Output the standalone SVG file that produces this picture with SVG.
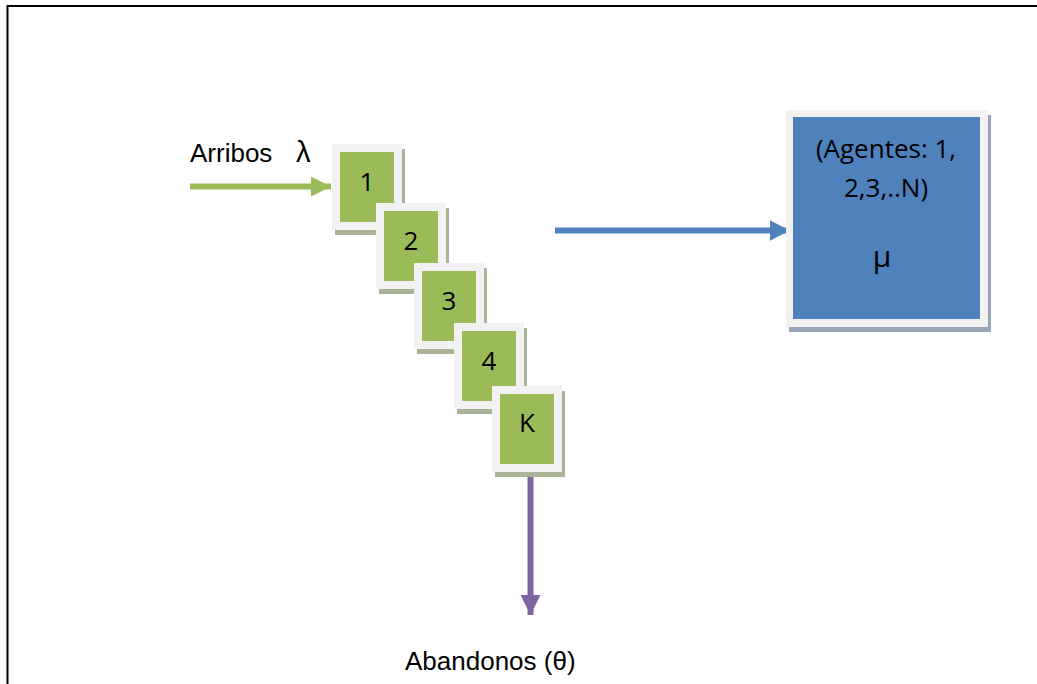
<svg xmlns="http://www.w3.org/2000/svg" width="1037" height="684" viewBox="0 0 1037 684">
<defs>
<style>
.frame{fill:#f2f2f2}
.gshadow{fill:#a9b496}
.green{fill:#9bbb59}
.bshadow{fill:#97a5ba}
.blue{fill:#4f81bd}
.num{font-family:"Open Sans","Noto Sans",sans-serif;font-size:26px;fill:#000;text-anchor:middle}
.lbl{font-family:"Liberation Sans",Arial,sans-serif;font-size:26px;fill:#000}
</style>
<marker id="ahG" markerWidth="20" markerHeight="20" refX="20" refY="10" viewBox="0 0 20 20" markerUnits="userSpaceOnUse" orient="auto"><path d="M0,0 L20,10 L0,20 Z" fill="#9bbb59"/></marker>
<marker id="ahB" markerWidth="20" markerHeight="21" refX="20" refY="10.5" viewBox="0 0 20 21" markerUnits="userSpaceOnUse" orient="auto"><path d="M0,0 L20,10.5 L0,21 Z" fill="#4f81bd"/></marker>
<marker id="ahP" markerWidth="20" markerHeight="20" refX="20" refY="10" viewBox="0 0 20 20" markerUnits="userSpaceOnUse" orient="auto"><path d="M0,0 L20,10 L0,20 Z" fill="#8064a2"/></marker>
</defs>
<rect width="1037" height="684" fill="#fff"/>
<path d="M7.5,684 V6 H1037" fill="none" stroke="#000" stroke-width="2"/>
<g id="connectors">
<line x1="190" y1="186.5" x2="331" y2="186.5" stroke="#9bbb59" stroke-width="6" marker-end="url(#ahG)"/>
<line x1="555" y1="230.5" x2="789.5" y2="230.5" stroke="#4f81bd" stroke-width="6" marker-end="url(#ahB)"/>
<line x1="530.5" y1="474" x2="530.5" y2="615" stroke="#8064a2" stroke-width="6" marker-end="url(#ahP)"/>
</g>
<g id="box1"><rect class="gshadow" x="335" y="149" width="70" height="86"/><rect class="frame" x="332" y="144" width="70" height="86"/><rect class="green" x="340" y="152" width="54" height="70"/><text class="num" x="367" y="191">1</text></g>
<g id="box2"><rect class="gshadow" x="379" y="208" width="70" height="86"/><rect class="frame" x="376" y="203" width="70" height="86"/><rect class="green" x="384" y="211" width="54" height="70"/><text class="num" x="411" y="250">2</text></g>
<g id="box3"><rect class="gshadow" x="417" y="268" width="70" height="86"/><rect class="frame" x="414" y="263" width="70" height="86"/><rect class="green" x="422" y="271" width="54" height="70"/><text class="num" x="449" y="310">3</text></g>
<g id="box4"><rect class="gshadow" x="457" y="328" width="70" height="86"/><rect class="frame" x="454" y="323" width="70" height="86"/><rect class="green" x="462" y="331" width="54" height="70"/><text class="num" x="489" y="370">4</text></g>
<g id="boxK"><rect class="gshadow" x="495" y="391" width="70" height="86"/><rect class="frame" x="492" y="386" width="70" height="86"/><rect class="green" x="500" y="394" width="54" height="70"/><text class="num" x="527" y="432">K</text></g>
<g id="agents"><rect class="bshadow" x="789" y="115" width="202" height="217"/><rect class="frame" x="786" y="110" width="202" height="217"/><rect class="blue" x="793" y="117" width="187" height="202"/>
<text class="num" x="886" y="158">(Agentes: 1,</text><text class="num" x="886" y="197">2,3,..N)</text><text class="num" x="882" y="267" style="font-size:30px">μ</text></g>
<g id="labels">
<text class="lbl" x="190" y="162">Arribos</text>
<text class="lbl" x="296" y="162" style="font-size:29px">λ</text>
<text class="lbl" x="405" y="670">Abandonos (θ)</text>
</g>
</svg>
